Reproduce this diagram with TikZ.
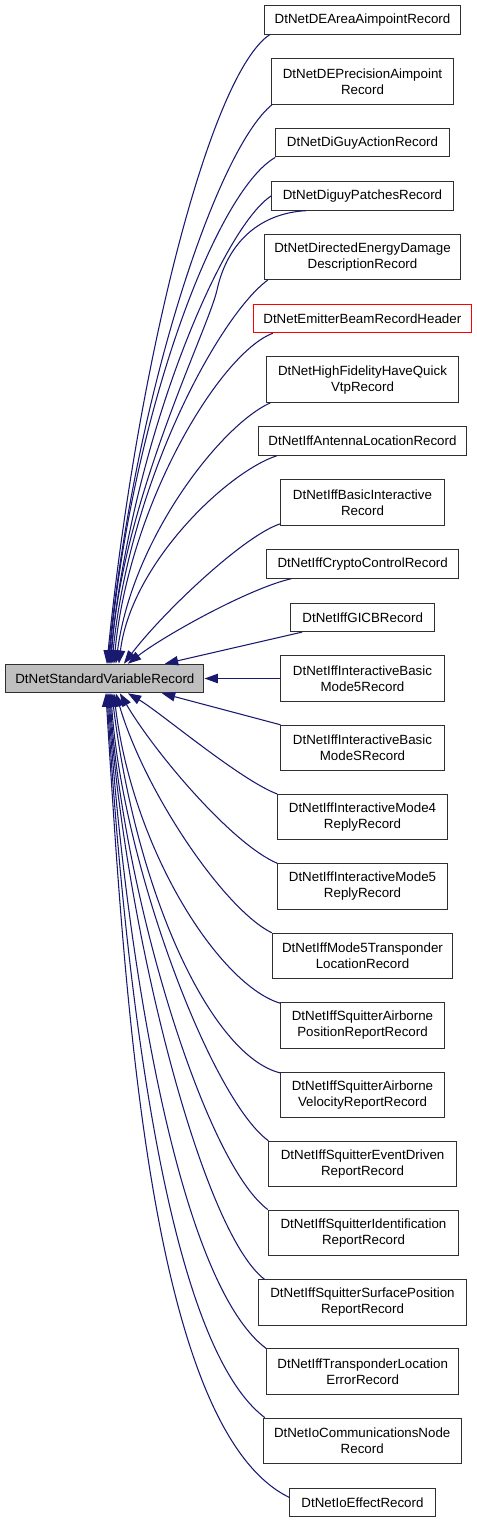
\documentclass[tikz,border=0pt]{standalone}
\usepackage{fontspec}
\setmainfont{Liberation Sans}
\usetikzlibrary{arrows.meta,calc}
\definecolor{edgeblue}{RGB}{25,25,112}
\definecolor{boxline}{RGB}{48,48,48}
\definecolor{rootfill}{RGB}{191,191,191}
\begin{document}
\begin{tikzpicture}[x=0.75pt,y=-0.75pt,
  cls/.style={draw=boxline, line width=0.75pt, fill=white, inner sep=0pt,
    minimum height=21.4pt, align=center, font=\fontsize{10}{12}\selectfont},
  cls2/.style={cls, minimum height=34.1pt},
  rootcls/.style={cls, fill=rootfill},
  redcls/.style={cls, draw=red},
  edge/.style={draw=edgeblue, line width=0.8pt, -{Triangle[length=10pt,width=7pt]}}]
\useasboundingbox (0,0) rectangle (477,1523);
% root
\node[rootcls, minimum width=148.7pt] (root) at (104.85,678.5) {DtNetStandardVariableRecord};
% children
\node[cls,  minimum width=147.3pt] (dearea)      at (362.5,19.85)  {DtNetDEAreaAimpointRecord};
\node[cls2, minimum width=136.2pt] (deprec)      at (362.5,81.3)   {DtNetDEPrecisionAimpoint\\Record};
\node[cls,  minimum width=130.2pt] (diguyaction) at (362.5,142.7)  {DtNetDiGuyActionRecord};
\node[cls,  minimum width=136.2pt] (patches)     at (362.5,195.9)  {DtNetDiguyPatchesRecord};
\node[cls2, minimum width=147.3pt] (directed)    at (362.5,256.8)  {DtNetDirectedEnergyDamage\\DescriptionRecord};
\node[redcls, minimum width=163.5pt] (emitter)   at (362.3,318.5)  {DtNetEmitterBeamRecordHeader};
\node[cls2, minimum width=143.7pt] (highfid)     at (362.5,379.7)  {DtNetHighFidelityHaveQuick\\VtpRecord};
\node[cls,  minimum width=156.3pt] (antenna)     at (362.5,441)    {DtNetIffAntennaLocationRecord};
\node[cls2, minimum width=122.3pt] (basicinter)  at (362.5,502.5)  {DtNetIffBasicInteractive\\Record};
\node[cls,  minimum width=144pt]   (crypto)      at (362.7,564)    {DtNetIffCryptoControlRecord};
\node[cls,  minimum width=108pt]   (gicb)        at (362.7,617.3)  {DtNetIffGICBRecord};
\node[cls2, minimum width=122.3pt] (mode5)       at (362.5,678.5)  {DtNetIffInteractiveBasic\\Mode5Record};
\node[cls2, minimum width=122.3pt] (modeS)       at (362.5,748)    {DtNetIffInteractiveBasic\\ModeSRecord};
\node[cls2, minimum width=127.2pt] (mode4)       at (362.5,817.2)  {DtNetIffInteractiveMode4\\ReplyRecord};
\node[cls2, minimum width=127.2pt] (mode5reply)  at (362.5,886.5)  {DtNetIffInteractiveMode5\\ReplyRecord};
\node[cls2, minimum width=135.3pt] (mfivetransp) at (362.5,956)    {DtNetIffMode5Transponder\\LocationRecord};
\node[cls2, minimum width=122.3pt] (sqairpos)    at (362.5,1025.5) {DtNetIffSquitterAirborne\\PositionReportRecord};
\node[cls2, minimum width=122.3pt] (sqairvel)    at (362.5,1095.2) {DtNetIffSquitterAirborne\\VelocityReportRecord};
\node[cls2, minimum width=140.5pt] (eventdriven) at (362.6,1164)   {DtNetIffSquitterEventDriven\\ReportRecord};
\node[cls2, minimum width=142.8pt] (ident)       at (363.5,1232.8) {DtNetIffSquitterIdentification\\ReportRecord};
\node[cls2, minimum width=155.3pt] (surface)     at (362.5,1302.5) {DtNetIffSquitterSurfacePosition\\ReportRecord};
\node[cls2, minimum width=144pt]   (transerr)    at (362.7,1371.7) {DtNetIffTransponderLocation\\ErrorRecord};
\node[cls2, minimum width=148.3pt] (iocomm)      at (362.2,1440.8) {DtNetIoCommunicationsNode\\Record};
\node[cls,  minimum width=108.8pt] (ioeffect)    at (362.5,1502.5) {DtNetIoEffectRecord};
% upper edges
\draw[edge] ($(dearea.south west)+(6,0)$) .. controls (210,74) and (137,364) .. ($(root.north)+(2,0)$);
\draw[edge] ($(deprec.south west)+(1,0)$) .. controls (217,149) and (135,394) .. ($(root.north)+(3,0)$);
\draw[edge] (diguyaction.south west) .. controls (215,192) and (131,419) .. ($(root.north)+(4,0)$);
\draw[edge] (patches.west) .. controls (222,228) and (132,439) .. ($(root.north)+(5,0)$);
\draw[edge] ($(patches.south west)+(35,0)$) .. controls (262,213) and (228,240) .. (217,290)
  .. controls (208,330) and (122,500) .. ($(root.north)+(6,0)$);
\draw[edge] ($(directed.south west)+(4,0)$) .. controls (220,315) and (130,479) .. ($(root.north)+(7,0)$);
\draw[edge] ($(emitter.south west)+(20,0)$) .. controls (220,353) and (129,504) .. ($(root.north)+(9,0)$);
\draw[edge] ($(highfid.south west)+(4,0)$) .. controls (221,425) and (132,539) .. ($(root.north)+(11,0)$);
\draw[edge] ($(antenna.south west)+(19,0)$) .. controls (227,472) and (131,564) .. ($(root.north)+(14,0)$);
\draw[edge] ($(basicinter.south west)+(0,-2)$) .. controls (245,535) and (165,610) .. ($(root.north)+(19,0)$);
\draw[edge] ($(crypto.south west)+(25,0)$) .. controls (250,588) and (165,635) .. ($(root.north)+(23,0)$);
\draw[edge] ($(gicb.south west)+(12,0)$) -- ($(root.north)+(60,0)$);
% middle edge
\draw[edge] (mode5.west) -- (root.east);
% lower edges
\draw[edge] (modeS.north west) -- ($(root.south)+(57,0)$);
\draw[edge] (mode4.north west) .. controls (240,780) and (160,712) .. ($(root.south)+(23,0)$);
\draw[edge] (mode5reply.north west) .. controls (232,844) and (155,753) .. ($(root.south)+(15,0)$);
\draw[edge] (mfivetransp.north west) .. controls (225,910) and (145,793) .. ($(root.south)+(11,0)$);
\draw[edge] ($(sqairpos.north west)+(0,1)$) .. controls (221,986) and (133,853) .. ($(root.south)+(9,0)$);
\draw[edge] ($(sqairvel.north west)+(0,1)$) .. controls (211,1056) and (136,893) .. ($(root.south)+(7,0)$);
\draw[edge] (eventdriven.north west) .. controls (211,1099) and (122,863) .. ($(root.south)+(6,0)$);
\draw[edge] (ident.north west) .. controls (204,1162) and (122,889) .. ($(root.south)+(5,0)$);
\draw[edge] ($(surface.north west)+(6,0)$) .. controls (200,1230) and (123,916) .. ($(root.south)+(4,0)$);
\draw[edge] (transerr.north west) .. controls (176,1281) and (124,942) .. ($(root.south)+(3,0)$);
\draw[edge] ($(iocomm.north west)+(2,0)$) .. controls (164,1342) and (124,969) .. ($(root.south)+(2,0)$);
\draw[edge] ($(ioeffect.west)+(0,-5)$) .. controls (150,1430) and (125,1000) .. ($(root.south)+(1,0)$);
\end{tikzpicture}
\end{document}
